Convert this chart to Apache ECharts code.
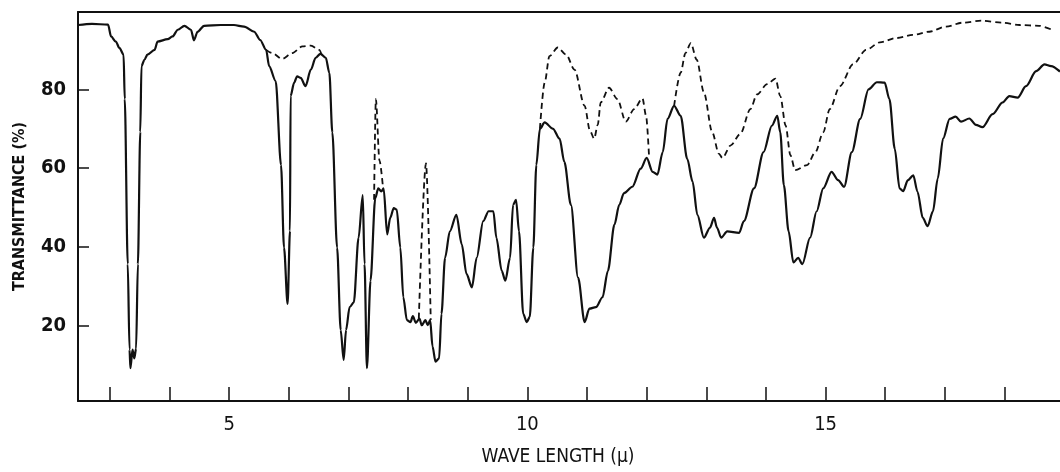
<!DOCTYPE html>
<html>
<head>
<meta charset="utf-8">
<script src="https://cdn.jsdelivr.net/npm/echarts@6/dist/echarts.min.js"></script>
<style>
  html, body { margin: 0; padding: 0; background: #fff; }
  #chart { width: 1060px; height: 472px; }
</style>
</head>
<body>
<div id="chart"></div>
<script>
// wavelength (micron), transmittance (%)
var sampleTrace = [
  [2.47,96.3],[2.7,96.6],[2.97,96.4],[3.02,93.4],[3.10,92.1],[3.16,90.5],[3.23,88.8],[3.25,77.5],
  [3.30,35.7],[3.33,14],[3.345,9.3],[3.38,14],[3.41,11.8],[3.44,14.3],[3.47,35.7],[3.51,69.2],
  [3.53,85.9],[3.58,87.5],[3.63,88.8],[3.75,90],[3.80,92.1],[3.97,92.7],[4.05,93.4],[4.14,95.1],
  [4.25,96.1],[4.36,95.1],[4.41,92.4],[4.47,94.6],[4.58,96.1],[4.86,96.3],[5.08,96.3],[5.25,95.9],
  [5.42,94.6],[5.52,92.5],[5.62,90],[5.67,85.9],[5.78,82.1],[5.87,60.8],[5.92,39.9],[5.98,25.6],
  [6.02,44.1],[6.03,78.3],[6.09,81.7],[6.14,83.3],[6.20,82.9],[6.28,80.8],[6.37,85],[6.45,88],
  [6.53,89],[6.62,88],[6.68,84.2],[6.73,69.1],[6.81,39.9],[6.87,19],[6.92,11.4],[6.96,19],
  [7.02,24.8],[7.09,26],[7.17,42.4],[7.24,53.2],[7.27,35.7],[7.31,9.3],[7.37,31.5],[7.45,52.4],
  [7.50,54.9],[7.55,54.1],[7.59,54.9],[7.65,43.2],[7.70,47.4],[7.76,49.9],[7.81,49.5],[7.87,39.9],
  [7.92,27.3],[7.98,21.5],[8.04,21],[8.08,22.5],[8.13,20.8],[8.19,21.9],[8.23,20.2],[8.29,21.5],
  [8.33,20.2],[8.37,21.5],[8.41,14.8],[8.46,11],[8.52,11.8],[8.56,23.1],[8.62,37.3],[8.70,44],
  [8.81,48.2],[8.90,40.7],[8.98,33.2],[9.07,29.8],[9.15,37.3],[9.26,46.6],[9.35,49.1],[9.43,49.1],
  [9.48,42.4],[9.57,34],[9.63,31.5],[9.71,37.3],[9.76,50.7],[9.81,52],[9.86,44],[9.93,23.1],
  [9.99,21],[10.04,22.3],[10.10,39.9],[10.15,60.8],[10.21,70],[10.29,71.6],[10.43,70],[10.54,67.5],
  [10.62,61.6],[10.73,50.7],[10.85,32.3],[10.96,21],[11.04,24.4],[11.15,24.8],[11.26,27.3],[11.35,34],
  [11.46,45.7],[11.54,50.7],[11.62,53.7],[11.76,55.3],[11.90,59.9],[12.00,62.6],[12.10,59.1],[12.18,58.4],
  [12.27,64.1],[12.35,72.5],[12.46,75.8],[12.57,73.3],[12.68,62.4],[12.77,56.6],[12.85,48.2],[12.96,42.4],
  [13.06,44.9],[13.13,47.4],[13.18,44.9],[13.25,42.4],[13.35,44],[13.55,43.6],[13.63,46.6],[13.80,54.9],
  [13.96,64.1],[14.10,70.8],[14.19,73.3],[14.24,69.1],[14.30,55.7],[14.38,44],[14.46,36.1],[14.54,37.3],
  [14.61,35.7],[14.74,42.4],[14.85,49.1],[14.96,54.9],[15.10,59.1],[15.21,57],[15.31,55.3],[15.44,64.1],
  [15.58,72.5],[15.72,80],[15.86,81.8],[15.99,81.7],[16.07,77.5],[16.16,64.9],[16.24,54.9],[16.30,54.2],
  [16.38,57],[16.47,58.2],[16.54,54.1],[16.63,47.4],[16.71,45.3],[16.80,49.1],[16.88,57.4],[16.97,67.5],
  [17.08,72.5],[17.18,73.1],[17.27,71.8],[17.41,72.6],[17.52,71],[17.63,70.4],[17.80,73.7],[17.97,76.7],
  [18.08,78.3],[18.22,77.9],[18.36,80.8],[18.53,84.6],[18.67,86.3],[18.78,85.9],[18.93,84.5]
];

// dashed (solvent / reference) trace, only where it leaves the sample trace
var refCarbonyl = [[5.62,90],[5.72,89.2],[5.89,87.7],[6.06,89.2],[6.23,90.9],[6.37,91.1],[6.51,90],[6.55,88.8]];
var ref75 = [[7.43,52],[7.46,77.5],[7.52,62],[7.58,55]];
var ref83 = [[8.18,21.9],[8.30,61.2],[8.38,21.5]];
var ref11 = [
  [10.21,70],[10.29,81.7],[10.37,88.4],[10.51,90.6],[10.65,88.8],[10.79,85],[10.96,75.8],[11.05,69.5],
  [11.12,67.5],[11.18,71],[11.23,76.7],[11.37,80.4],[11.51,77.5],[11.65,71.8],[11.79,75],[11.93,77.7],
  [11.99,73.3],[12.04,63]
];
var refLong = [
  [12.46,75.8],[12.57,84.2],[12.65,89.2],[12.74,91.7],[12.84,87.5],[12.96,79.2],[13.10,69.1],[13.21,63.7],
  [13.27,62.6],[13.41,65.8],[13.57,68.7],[13.74,75],[13.85,78.7],[14.02,81.3],[14.16,82.7],[14.24,78.3],
  [14.33,70.8],[14.41,63.3],[14.49,59.5],[14.69,60.8],[14.83,64.1],[14.96,69.1],[15.07,75],[15.24,80.8],
  [15.46,86.3],[15.68,90],[15.91,91.9],[16.19,93],[16.46,93.8],[16.74,94.6],[17.02,95.9],[17.30,96.9],
  [17.61,97.4],[17.97,96.9],[18.25,96.3],[18.58,96.1],[18.78,95.2]
];

var xTicks = [3,4,5,6,7,8,9,10,11,12,13,14,15,16,17,18];
var xLabels = [5,10,15];
var yLabels = [20,40,60,80];

var font = "'Liberation Sans Narrow', 'DejaVu Sans Condensed', 'Liberation Sans', sans-serif";

var chart = echarts.init(document.getElementById('chart'));

function dashed(data) {
  return {
    type: 'line',
    data: data,
    showSymbol: false,
    smooth: 0.3,
    smoothMonotone: 'x',
    lineStyle: { color: '#111', width: 1.8, type: [6, 4] },
    z: 2
  };
}

var option = {
  animation: false,
  grid: { left: 78, right: 0, top: 12, bottom: 67 },
  xAxis: [{
    type: 'value',
    min: 2.466,
    max: 18.93,
    name: 'WAVE LENGTH (\u03bc)',
    nameLocation: 'middle',
    nameGap: 47,
    nameTextStyle: { color: '#111', fontSize: 19, fontFamily: font, padding: [0, 22, 0, 0] },
    axisLine: { lineStyle: { color: '#111', width: 2 } },
    axisTick: { inside: true, length: 14, customValues: xTicks, lineStyle: { color: '#111', width: 1.5 } },
    axisLabel: { customValues: xLabels, color: '#111', fontSize: 20, fontFamily: font, margin: 14 },
    splitLine: { show: false }
  }, {
    type: 'value',
    position: 'top',
    min: 2.466,
    max: 18.93,
    axisLine: { show: true, lineStyle: { color: '#111', width: 2 } },
    axisTick: { show: false },
    axisLabel: { show: false },
    splitLine: { show: false }
  }],
  yAxis: {
    type: 'value',
    min: 1,
    max: 99.6,
    name: 'TRANSMITTANCE (%)',
    nameLocation: 'middle',
    nameGap: 50,
    nameRotate: 90,
    nameTextStyle: { color: '#111', fontSize: 16, fontWeight: 'bold', fontFamily: font },
    axisLine: { show: true, lineStyle: { color: '#111', width: 2 } },
    axisTick: { show: true, inside: true, length: 11, customValues: yLabels, lineStyle: { color: '#111', width: 1.5 } },
    axisLabel: { customValues: yLabels, color: '#111', fontSize: 20, fontWeight: 'bold', fontFamily: font, margin: 12 },
    splitLine: { show: false }
  },
  series: [
    {
      type: 'line',
      data: sampleTrace,
      showSymbol: false,
      smooth: 0.3,
      smoothMonotone: 'x',
      lineStyle: { color: '#111', width: 2.2 },
      z: 3
    },
    dashed(refCarbonyl),
    dashed(ref75),
    dashed(ref83),
    dashed(ref11),
    dashed(refLong)
  ]
};

chart.setOption(option);
</script>
</body>
</html>
